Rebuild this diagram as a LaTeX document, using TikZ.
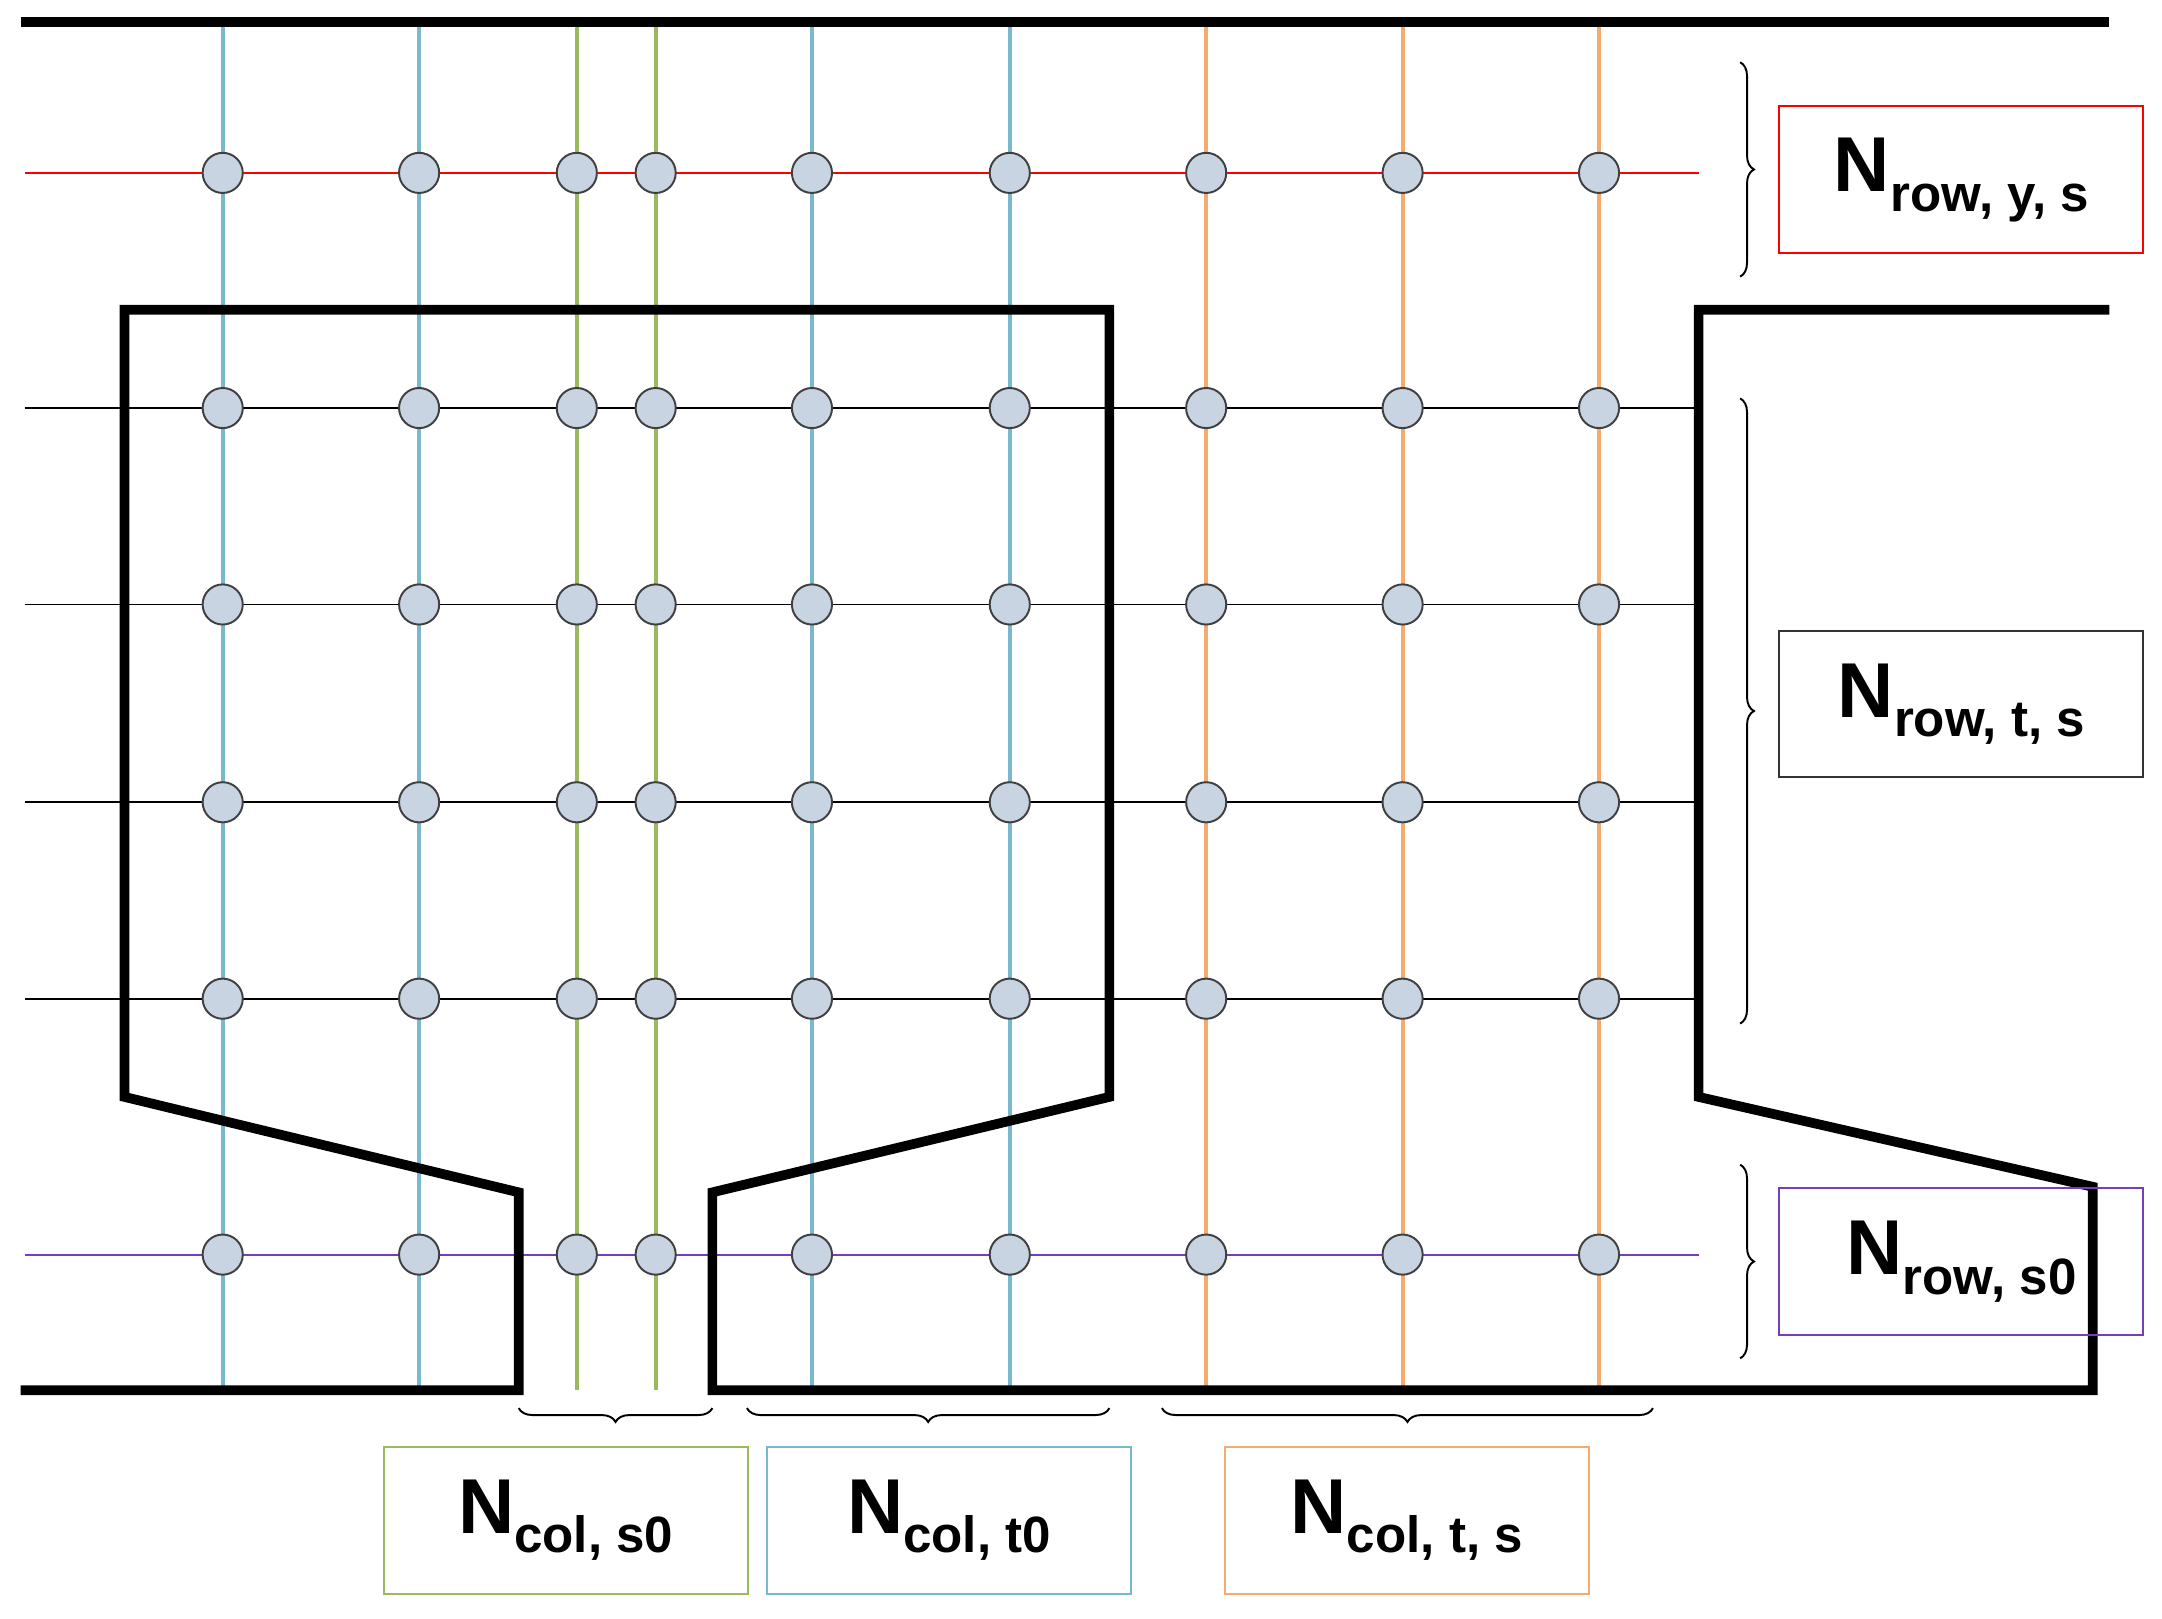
\documentclass[tikz,border=0pt]{standalone}
\usepackage{fontspec}
\setmainfont{Liberation Sans}
\usetikzlibrary{decorations.pathreplacing}
\definecolor{cb}{RGB}{120,185,205}
\definecolor{cg}{RGB}{155,185,95}
\definecolor{co}{RGB}{245,170,110}
\definecolor{cp}{RGB}{120,60,190}
\definecolor{nf}{RGB}{200,212,226}
\tikzset{
 wall/.style={line width=2pt,line join=miter},
 dot/.style={circle,draw=black!75,fill=nf,minimum size=0.29cm,inner sep=0pt},
 lab/.style={draw,minimum width=2.63cm,minimum height=1.06cm,inner sep=0pt,font=\bfseries},
 br/.style={decorate,decoration={brace,amplitude=0.1cm},thin},
}
\newcommand{\lbl}[2]{{\fontsize{16}{16}\selectfont #1}\raisebox{-4pt}{\fontsize{10.5}{10.5}\selectfont #2}}
\begin{document}
\begin{tikzpicture}[x=0.01cm,y=-0.01cm]
\useasboundingbox (0,0) rectangle (1563,1170);
% horizontal lines
\draw[red] (18,125) -- (1228,125);
\foreach \y in {295,437,580,722} \draw[black] (18,\y) -- (1228,\y);
\draw[cp] (18,907) -- (1228,907);
% vertical lines
\foreach \x/\c in {161/cb,303/cb,417/cg,474/cg,587/cb,730/cb,872/co,1014/co,1156/co}
  \draw[\c,line width=0.8pt] (\x,12) -- (\x,1005);
% walls
\draw[wall] (15,16) -- (1525,16);
\draw[wall] (15,1005) -- (375,1005) -- (375,862) -- (90,793) -- (90,224) -- (802,224) -- (802,793) -- (515,862) -- (515,1005) -- (1513,1005) -- (1513,858) -- (1228,793) -- (1228,224) -- (1525,224);
% dots
\foreach \y in {125,295,437,580,722,907}
 \foreach \x in {161,303,417,474,587,730,872,1014,1156}
  \node[dot] at (\x,\y) {};
% braces
\draw[br] (1258,45) -- (1258,200);
\draw[br] (1258,288) -- (1258,740);
\draw[br] (1258,842) -- (1258,982);
\draw[br] (515,1018) -- (375,1018);
\draw[br] (802,1018) -- (540,1018);
\draw[br] (1195,1018) -- (840,1018);
% labels
\node[lab,draw=red] (a) at (1418,130) {\lbl{N}{row, y, s}};
\node[lab,draw=black!80] (b) at (1418,509) {\lbl{N}{row, t, s}};
\node[lab,draw=cp] (c) at (1418,912) {\lbl{N}{row, s0}};
\node[lab,draw=cg] (d) at (409,1099) {\lbl{N}{col, s0}};
\node[lab,draw=cb] (e) at (686,1099) {\lbl{N}{col, t0}};
\node[lab,draw=co] (f) at (1017,1099) {\lbl{N}{col, t, s}};
\end{tikzpicture}
\end{document}
